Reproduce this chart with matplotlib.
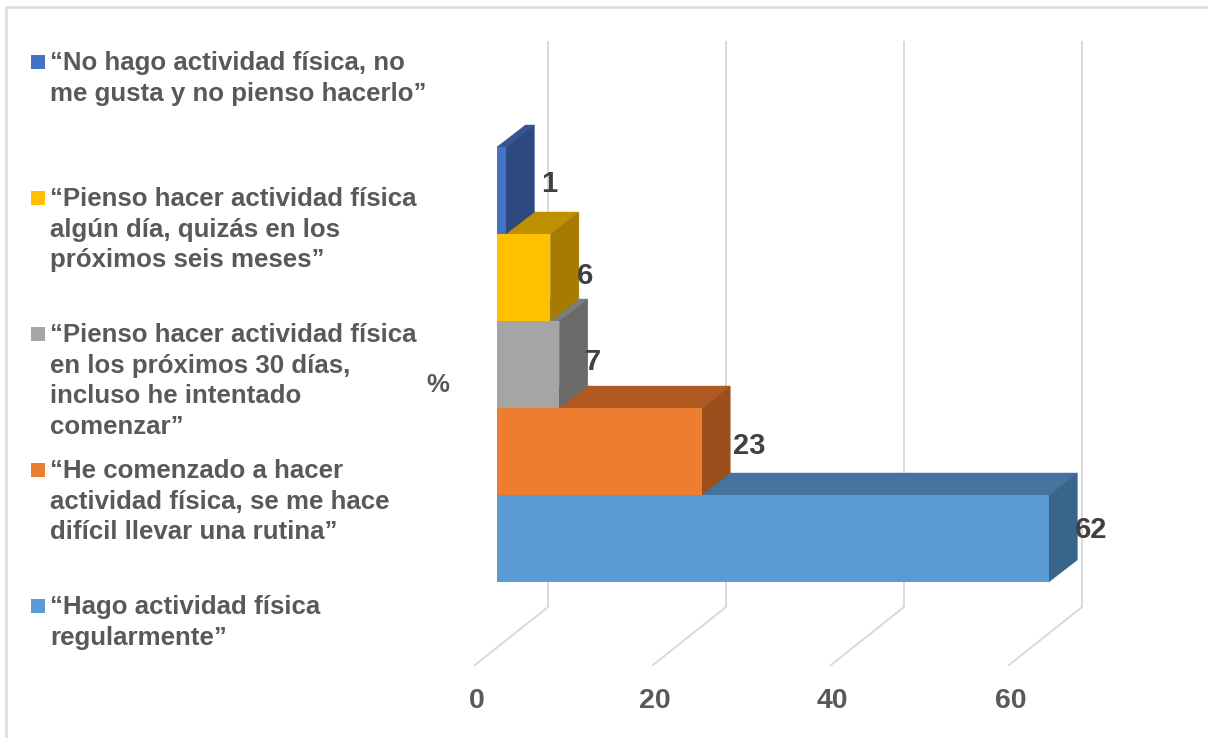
import matplotlib
matplotlib.use("Agg")
import matplotlib.pyplot as plt
from matplotlib.patches import Rectangle
from matplotlib.lines import Line2D

# ---- data ----
categories = [
    "“Hago actividad física\nregularmente”",
    "“He comenzado a hacer\nactividad física, se me hace\ndifícil llevar una rutina”",
    "“Pienso hacer actividad física\nen los próximos 30 días,\nincluso he intentado\ncomenzar”",
    "“Pienso hacer actividad física\nalgún día, quizás en los\npróximos seis meses”",
    "“No hago actividad física, no\nme gusta y no pienso hacerlo”",
]
values = [62, 23, 7, 6, 1]
x_ticks = [0, 20, 40, 60]
axis_title = "%"

# ---- style ----
front_colors = ["#5B9BD5", "#ED7D31", "#A5A5A5", "#FFC000", "#4472C4"]
top_colors = ["#44739F", "#B05A22", "#7C7C7C", "#BF9000", "#335692"]
side_colors = ["#386589", "#9A4F1C", "#6A6A6A", "#A67C00", "#2C4A80"]
GRID = "#D9D9D9"
TEXT = "#595959"
LABEL = "#404040"
FONT = "Liberation Sans"

W, H = 1208, 738
PX = 8.9          # pixels per data unit, x
PY = 87.0         # pixels per category, y
X0, Y0 = 497, 538.5
DX, DY = 28.5 / PX, 22 / PY    # 3-D depth of a bar in data units

fig = plt.figure(figsize=(W / 100, H / 100), dpi=100, facecolor="white")
ax = fig.add_axes([0, 0, 1, 1])
ax.set_xlim(-X0 / PX, (W - X0) / PX)
ax.set_ylim((Y0 - H) / PY, Y0 / PY)
ax.axis("off")

# pixel helpers for layout only
fx = lambda px: (px - X0) / PX
fy = lambda py: (Y0 - py) / PY

# frame
ax.add_line(Line2D([fx(6), fx(6), fx(W)], [fy(H), fy(7), fy(7)], color="#DCDCDC", lw=1.8, zorder=1))

# gridlines on the back wall and floor
for t in x_ticks:
    ax.plot([t + fx(475), t + fx(548), t + fx(548)],
            [fy(665), fy(607), fy(42)], color=GRID, lw=1.4, zorder=2,
            solid_joinstyle="miter")
    ax.text(t + fx(476.5), fy(700.5), str(t), ha="center", va="center",
            family=FONT, weight="bold", fontsize=20.5, color=TEXT, zorder=20)

# bars, bottom bar first so each upper bar hides the top of the bar below
ax.set_autoscale_on(False)
z = 5
for i in range(len(values)):
    v = values[i]
    lo, hi = i - 0.5, i + 0.5
    ax.fill([0, v, v + DX, DX], [hi, hi, hi + DY, hi + DY],
            color=top_colors[i], lw=0.3, zorder=z)
    ax.fill([v, v + DX, v + DX, v], [lo, lo + DY, hi + DY, hi],
            color=side_colors[i], lw=0.3, zorder=z)
    ax.barh(i, v, height=1.0, left=0, color=front_colors[i], lw=0, zorder=z + 0.5)
    z += 1

# value labels (offsets from the bar end, in pixels)
label_dx = [26, 31, 25, 26, 35]
label_dy = [8, 6, 2, 2, 7]
for i, v in enumerate(values):
    ax.text(v + label_dx[i] / PX, i + label_dy[i] / PY, str(v), ha="left", va="center",
            family=FONT, weight="bold", fontsize=21, color=LABEL, zorder=20)

# axis title
ax.text(fx(438), fy(385), axis_title, ha="center", va="center",
        family=FONT, weight="bold", fontsize=18.5, color=TEXT, zorder=20)

# legend
legend_top = [62, 198, 334, 470, 606]
LINE = 30.6
legend_order = [4, 3, 2, 1, 0]
for row, idx in enumerate(legend_order):
    y = legend_top[row]
    ax.add_patch(Rectangle((fx(31), fy(y + 7)), 14 / PX, 14 / PY,
                           facecolor=front_colors[idx], lw=0, zorder=20))
    for j, line in enumerate(categories[idx].split("\n")):
        ax.text(fx(50), fy(y + 1 + j * LINE), line, ha="left", va="center",
                family=FONT, weight="bold", fontsize=18.6, color=TEXT, zorder=20)

fig.savefig("out.png", dpi=100, facecolor="white")
